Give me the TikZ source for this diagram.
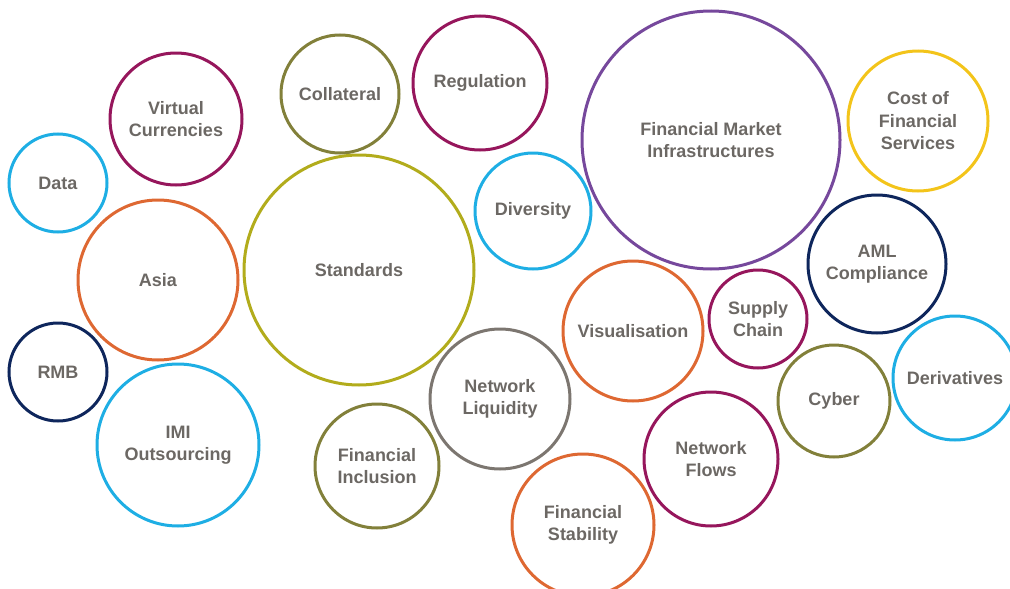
\documentclass[tikz,border=0pt]{standalone}
\usepackage{fontspec}
\setmainfont{Liberation Sans}
\usepackage{tikz}
\usetikzlibrary{positioning}
\usepackage{xcolor}
\definecolor{txtgray}{RGB}{108,104,100}
\definecolor{maroon}{RGB}{150,22,92}
\definecolor{olive}{RGB}{130,128,58}
\definecolor{mustard}{RGB}{178,172,28}
\definecolor{violet}{RGB}{118,72,156}
\definecolor{gold}{RGB}{243,196,26}
\definecolor{sky}{RGB}{30,174,228}
\definecolor{rust}{RGB}{222,104,50}
\definecolor{navy}{RGB}{14,38,92}
\definecolor{stone}{RGB}{124,118,112}

\begin{document}
\begin{tikzpicture}[x=1pt, y=-1pt,
  bubble/.style={circle, draw=#1, line width=3pt, inner sep=0pt, align=center,
    text=txtgray, font=\bfseries\fontsize{18}{22.5}\selectfont}]
  \useasboundingbox (0,0) rectangle (1010,589);
  \node[bubble=maroon, minimum size=132] (virtual) at (176,119) {Virtual\\Currencies};
  \node[bubble=olive, minimum size=118] (collateral) at (340,94) {Collateral};
  \node[bubble=maroon, minimum size=134] (regulation) at (480,83) {Regulation};
  \node[bubble=violet, minimum size=258] (fmi) at (711,140) {Financial Market\\Infrastructures};
  \node[bubble=gold, minimum size=140] (cost) at (918,121) {Cost of\\Financial\\Services};
  \node[bubble=sky, minimum size=98] (data) at (58,183) {Data};
  \node[bubble=sky, minimum size=116] (diversity) at (533,211) {Diversity};
  \node[bubble=mustard, minimum size=230] (standards) at (359,270) {Standards};
  \node[bubble=rust, minimum size=160] (asia) at (158,280) {Asia};
  \node[bubble=navy, minimum size=138] (aml) at (877,264) {AML\\Compliance};
  \node[bubble=rust, minimum size=140] (visual) at (633,331) {Visualisation};
  \node[bubble=maroon, minimum size=98] (supply) at (758,319) {Supply\\Chain};
  \node[bubble=navy, minimum size=98] (rmb) at (58,372) {RMB};
  \node[bubble=stone, minimum size=140] (netliq) at (500,399) {Network\\Liquidity};
  \node[bubble=sky, minimum size=124] (deriv) at (955,378) {Derivatives};
  \node[bubble=olive, minimum size=112] (cyber) at (834,401) {Cyber};
  \node[bubble=sky, minimum size=162] (imi) at (178,445) {IMI\\Outsourcing};
  \node[bubble=olive, minimum size=124] (fininc) at (377,466) {Financial\\Inclusion};
  \node[bubble=maroon, minimum size=134] (netflow) at (711,459) {Network\\Flows};
  \node[bubble=rust, minimum size=142] (finstab) at (583,525) {Financial\\Stability};
\end{tikzpicture}
\end{document}
